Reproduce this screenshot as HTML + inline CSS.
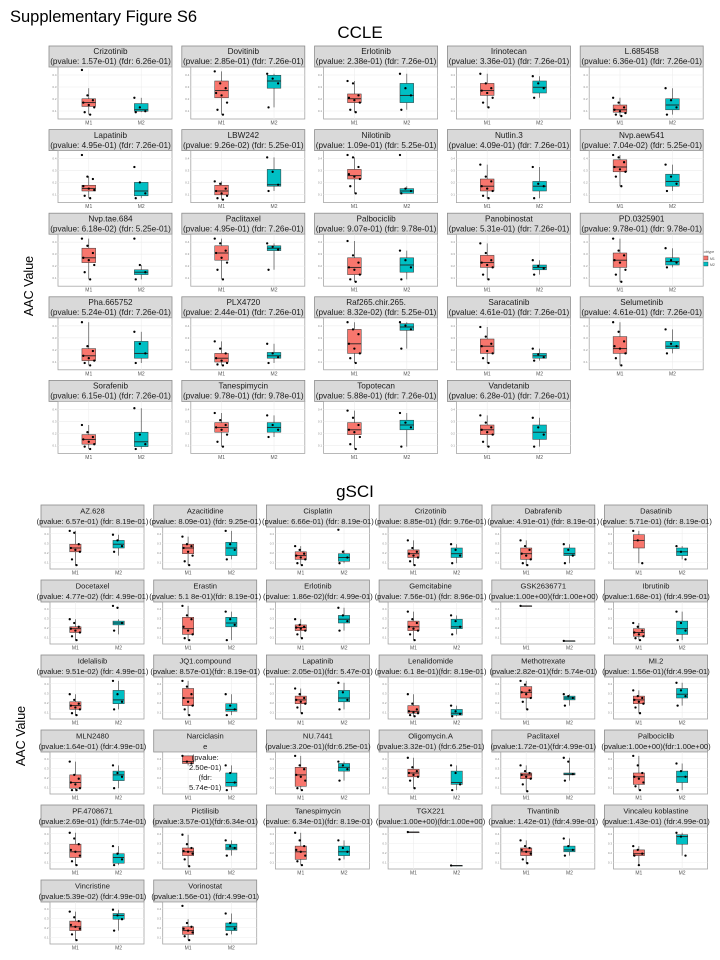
<!DOCTYPE html>
<html><head><meta charset="utf-8">
<style>
html,body{margin:0;padding:0;background:#fff;}
svg{display:block;font-family:"Liberation Sans",Arial,sans-serif;}
</style></head>
<body>
<svg id="fig" width="720" height="960" viewBox="0 0 720 960" xmlns="http://www.w3.org/2000/svg">
<rect width="720" height="960" fill="#fff"/>
<text x="10" y="22" font-size="16.5" fill="#000">Supplementary Figure S6</text>
<text x="360" y="38" font-size="17" text-anchor="middle" fill="#000">CCLE</text>
<text x="355" y="497" font-size="17" text-anchor="middle" fill="#000">gSCI</text>
<text transform="translate(33,286) rotate(-90)" font-size="12.5" text-anchor="middle">AAC Value</text>
<text transform="translate(25,736) rotate(-90)" font-size="12.5" text-anchor="middle">AAC Value</text>
<g font-size="3.5" fill="#555">
<text x="702" y="253">subtype</text>
<rect x="703" y="256" width="5" height="4" fill="#F8766D" stroke="#333" stroke-width="0.4"/>
<text x="710" y="260">M1</text>
<rect x="703" y="262" width="5" height="4" fill="#00BFC4" stroke="#333" stroke-width="0.4"/>
<text x="710" y="266">M2</text>
</g>
<g id="panels"></g>
</svg>
<script>
// ---------- CCLE data (values normalised to panel y-range 0..1) ----------
const ccleNames = ["Crizotinib","Dovitinib","Erlotinib","Irinotecan","L.685458","Lapatinib","LBW242","Nilotinib","Nutlin.3","Nvp.aew541","Nvp.tae.684","Paclitaxel","Palbociclib","Panobinostat","PD.0325901","Pha.665752","PLX4720","Raf265.chir.265.","Saracatinib","Selumetinib","Sorafenib","Tanespimycin","Topotecan","Vandetanib"];
const cclePvals = ["(pvalue: 1.57e-01) (fdr: 6.26e-01)","(pvalue: 2.85e-01) (fdr: 7.26e-01)","(pvalue: 2.38e-01) (fdr: 7.26e-01)","(pvalue: 3.36e-01) (fdr: 7.26e-01)","(pvalue: 6.36e-01) (fdr: 7.26e-01)","(pvalue: 4.95e-01) (fdr: 7.26e-01)","(pvalue: 9.26e-02) (fdr: 5.25e-01)","(pvalue: 1.09e-01) (fdr: 5.25e-01)","(pvalue: 4.09e-01) (fdr: 7.26e-01)","(pvalue: 7.04e-02) (fdr: 5.25e-01)","(pvalue: 6.18e-02) (fdr: 5.25e-01)","(pvalue: 4.95e-01) (fdr: 7.26e-01)","(pvalue: 9.07e-01) (fdr: 9.78e-01)","(pvalue: 5.31e-01) (fdr: 7.26e-01)","(pvalue: 9.78e-01) (fdr: 9.78e-01)","(pvalue: 5.24e-01) (fdr: 7.26e-01)","(pvalue: 2.44e-01) (fdr: 7.26e-01)","(pvalue: 8.32e-02) (fdr: 5.25e-01)","(pvalue: 4.61e-01) (fdr: 7.26e-01)","(pvalue: 4.61e-01) (fdr: 7.26e-01)","(pvalue: 6.15e-01) (fdr: 7.26e-01)","(pvalue: 9.78e-01) (fdr: 9.78e-01)","(pvalue: 5.88e-01) (fdr: 7.26e-01)","(pvalue: 6.28e-01) (fdr: 7.26e-01)"];
const ccleM1Box = [[0.05,0.22,0.3,0.38,0.6],[0.05,0.4,0.55,0.75,0.95],[0.1,0.3,0.38,0.48,0.75],[0.2,0.45,0.55,0.7,0.9],[0.02,0.1,0.15,0.25,0.4],[0.05,0.2,0.25,0.32,0.5],[0.02,0.12,0.2,0.32,0.4],[0.15,0.45,0.52,0.65,0.9],[0.05,0.2,0.3,0.45,0.75],[0.3,0.6,0.7,0.85,0.95],[0.1,0.45,0.55,0.75,0.95],[0.1,0.5,0.65,0.8,0.95],[0.05,0.2,0.35,0.55,0.9],[0.1,0.35,0.45,0.6,0.85],[0.05,0.35,0.5,0.65,0.95],[0.05,0.15,0.25,0.4,0.95],[0.05,0.12,0.2,0.3,0.55],[0.1,0.3,0.5,0.8,0.95],[0.1,0.3,0.45,0.6,0.85],[0.05,0.3,0.4,0.65,0.95],[0.05,0.15,0.25,0.35,0.55],[0.1,0.4,0.5,0.6,0.8],[0.05,0.35,0.45,0.6,0.85],[0.1,0.35,0.45,0.55,0.75]];
const ccleM2Box = [[0.1,0.12,0.15,0.28,0.4],[0.2,0.6,0.75,0.87,0.9],[0.15,0.3,0.45,0.7,0.9],[0.4,0.5,0.62,0.75,0.85],[0.05,0.15,0.25,0.38,0.6],[0.05,0.1,0.2,0.38,0.38],[0.2,0.3,0.33,0.65,0.9],[0.15,0.15,0.2,0.25,0.3],[0.05,0.2,0.3,0.4,0.7],[0.2,0.3,0.4,0.55,0.75],[0.1,0.2,0.25,0.3,0.4],[0.3,0.7,0.75,0.8,0.85],[0.1,0.25,0.4,0.55,0.7],[0.2,0.3,0.35,0.4,0.5],[0.35,0.4,0.47,0.55,0.75],[0.1,0.2,0.3,0.55,0.75],[0.1,0.2,0.25,0.32,0.5],[0.4,0.78,0.85,0.92,0.95],[0.15,0.2,0.25,0.3,0.4],[0.3,0.4,0.45,0.55,0.8],[0.05,0.1,0.2,0.4,0.9],[0.3,0.4,0.5,0.6,0.75],[0.1,0.45,0.55,0.65,0.8],[0.1,0.25,0.4,0.55,0.7]];
const ccleM1Pts = [[0.98,0.45,0.35,0.3,0.25,0.2,0.1,0.05],[0.95,0.7,0.6,0.5,0.45,0.3,0.15,0.05],[0.75,0.7,0.45,0.4,0.35,0.3,0.15,0.1],[0.9,0.7,0.6,0.55,0.5,0.4,0.3,0.2],[0.4,0.3,0.2,0.15,0.12,0.08,0.05,0.02],[0.95,0.5,0.45,0.3,0.25,0.22,0.1,0.05],[0.4,0.35,0.25,0.2,0.15,0.1,0.05,0.02],[0.95,0.9,0.7,0.55,0.5,0.45,0.3,0.15],[0.75,0.5,0.4,0.3,0.25,0.2,0.1,0.05],[0.95,0.9,0.8,0.7,0.65,0.6,0.5,0.3],[0.95,0.8,0.65,0.55,0.5,0.4,0.25,0.1],[0.95,0.85,0.7,0.65,0.55,0.45,0.3,0.1],[0.9,0.6,0.45,0.35,0.3,0.2,0.1,0.05],[0.85,0.65,0.5,0.45,0.4,0.35,0.2,0.1],[0.95,0.7,0.6,0.5,0.45,0.3,0.2,0.05],[0.95,0.45,0.35,0.25,0.2,0.15,0.1,0.05],[0.55,0.4,0.3,0.2,0.15,0.1,0.07,0.05],[0.95,0.8,0.7,0.5,0.4,0.3,0.2,0.1],[0.85,0.65,0.5,0.45,0.35,0.3,0.2,0.1],[0.95,0.75,0.55,0.45,0.4,0.3,0.2,0.05],[0.55,0.4,0.3,0.25,0.2,0.15,0.1,0.05],[0.8,0.65,0.55,0.5,0.45,0.35,0.2,0.1],[0.85,0.7,0.55,0.45,0.4,0.3,0.15,0.05],[0.75,0.6,0.5,0.45,0.4,0.35,0.2,0.1]];
const ccleM2Pts = [[0.4,0.2,0.12,0.1],[0.9,0.8,0.7,0.2],[0.9,0.6,0.45,0.15],[0.85,0.7,0.6,0.4],[0.6,0.35,0.2,0.05],[0.7,0.38,0.15,0.05],[0.9,0.6,0.33,0.2],[0.95,0.25,0.2,0.15],[0.7,0.35,0.3,0.05],[0.75,0.5,0.35,0.2],[0.95,0.4,0.25,0.1],[0.85,0.78,0.72,0.3],[0.7,0.5,0.35,0.1],[0.5,0.38,0.33,0.2],[0.75,0.5,0.45,0.35],[0.75,0.5,0.3,0.1],[0.5,0.3,0.22,0.1],[0.95,0.88,0.8,0.4],[0.4,0.28,0.22,0.15],[0.8,0.5,0.45,0.3],[0.9,0.35,0.15,0.05],[0.75,0.55,0.45,0.3],[0.8,0.6,0.5,0.1],[0.7,0.5,0.35,0.1]];

// ---------- gSCI data ----------
const gsciNames = ["AZ.628","Azacitidine","Cisplatin","Crizotinib","Dabrafenib","Dasatinib","Docetaxel","Erastin","Erlotinib","Gemcitabine","GSK2636771","Ibrutinib","Idelalisib","JQ1.compound","Lapatinib","Lenalidomide","Methotrexate","MI.2","MLN2480","Narciclasin|e","NU.7441","Oligomycin.A","Paclitaxel","Palbociclib","PF.4708671","Pictilisib","Tanespimycin","TGX221","Tivantinib","Vincaleu koblastine","Vincristine","Vorinostat"];
const gsciPvals = ["(pvalue: 6.57e-01) (fdr: 8.19e-01)","(pvalue: 8.09e-01) (fdr: 9.25e-01)","(pvalue: 6.66e-01) (fdr: 8.19e-01)","(pvalue: 8.85e-01) (fdr: 9.76e-01)","(pvalue: 4.91e-01) (fdr: 8.19e-01)","(pvalue: 5.71e-01) (fdr: 8.19e-01)","(pvalue: 4.77e-02) (fdr: 4.99e-01)","(pvalue: 5.1 8e-01)(fdr: 8.19e-01)","(pvalue: 1.86e-02)(fdr: 4.99e-01)","(pvalue: 7.56e-01) (fdr: 8.96e-01)","(pvalue:1.00e+00)(fdr:1.00e+00)","(pvalue:1.68e-01) (fdr:4.99e-01)","(pvalue: 9.51e-02) (fdr: 4.99e-01)","(pvalue: 8.57e-01)(fdr: 8.19e-01)","(pvalue: 2.05e-01)(fdr: 5.47e-01)","(pvalue: 6.1 8e-01)(fdr: 8.19e-01)","(pvalue:2.82e-01)(fdr: 5.74e-01)","(pvalue: 1.56e-01)(fdr:4.99e-01)","(pvalue:1.64e-01) (fdr:4.99e-01)","","(pvalue:3.20e-01)(fdr:6.25e-01)","(pvalue:3.32e-01) (fdr:6.25e-01)","(pvalue:1.72e-01)(fdr:4.99e-01)","(pvalue:1.00e+00)(fdr:1.00e+00)","(pvalue:2.69e-01) (fdr:5.74e-01)","(pvalue:3.57e-01)(fdr:6.34e-01)","(pvalue: 6.34e-01)(fdr: 8.19e-01)","(pvalue:1.00e+00)(fdr:1.00e+00)","(pvalue: 1.42e-01) (fdr:4.99e-01)","(pvalue:1.43e-01) (fdr:4.99e-01)","(pvalue:5.39e-02) (fdr:4.99e-01)","(pvalue:1.56e-01) (fdr:4.99e-01)"];
const gsciM1Box = [[0.05,0.4,0.5,0.6,0.95],[0.05,0.35,0.5,0.6,0.8],[0.05,0.2,0.3,0.4,0.55],[0.05,0.25,0.35,0.45,0.7],[0.05,0.2,0.35,0.5,0.7],[0.1,0.5,0.7,0.85,0.95],[0.05,0.25,0.35,0.4,0.6],[0.05,0.2,0.35,0.65,0.95],[0.1,0.3,0.38,0.45,0.6],[0.05,0.3,0.4,0.55,0.8],[0.95,0.95,0.95,0.95,0.95],[0.05,0.15,0.25,0.35,0.5],[0.05,0.2,0.3,0.4,0.6],[0.05,0.3,0.5,0.75,0.95],[0.1,0.35,0.45,0.55,0.75],[0.02,0.1,0.15,0.3,0.6],[0.2,0.5,0.65,0.8,0.95],[0.1,0.35,0.45,0.55,0.7],[0.05,0.1,0.25,0.45,0.8],[0.7,0.75,0.8,0.95,0.95],[0.05,0.15,0.45,0.65,0.95],[0.1,0.4,0.5,0.6,0.9],[0.02,0.35,0.45,0.5,0.7],[0.05,0.2,0.4,0.5,0.95],[0.05,0.25,0.4,0.6,0.9],[0.02,0.3,0.4,0.5,0.85],[0.05,0.2,0.4,0.55,0.9],[0.92,0.92,0.92,0.92,0.92],[0.1,0.3,0.4,0.5,0.7],[0.05,0.3,0.35,0.45,0.55],[0.05,0.3,0.4,0.55,0.8],[0.05,0.2,0.3,0.4,0.6]];
const gsciM2Box = [[0.3,0.5,0.6,0.7,0.85],[0.2,0.3,0.5,0.65,0.95],[0.1,0.15,0.25,0.35,0.45],[0.1,0.25,0.35,0.5,0.6],[0.1,0.3,0.35,0.5,0.6],[0.2,0.3,0.4,0.5,0.55],[0.2,0.45,0.5,0.55,0.6],[0.05,0.4,0.5,0.65,0.8],[0.3,0.5,0.6,0.7,0.9],[0.2,0.35,0.4,0.6,0.7],[0.03,0.03,0.03,0.03,0.03],[0.05,0.2,0.35,0.55,0.8],[0.2,0.35,0.45,0.7,0.95],[0.05,0.15,0.2,0.35,0.6],[0.2,0.4,0.5,0.7,0.9],[0.02,0.05,0.1,0.2,0.3],[0.3,0.45,0.5,0.55,0.6],[0.3,0.5,0.6,0.75,0.9],[0.1,0.3,0.45,0.55,0.7],[0.05,0.15,0.25,0.5,0.7],[0.3,0.55,0.65,0.75,0.8],[0.05,0.2,0.25,0.55,0.7],[0.3,0.45,0.47,0.5,0.9],[0.05,0.25,0.4,0.55,0.75],[0.05,0.1,0.25,0.35,0.55],[0.3,0.45,0.5,0.6,0.7],[0.2,0.3,0.4,0.55,0.7],[0.04,0.04,0.04,0.04,0.04],[0.3,0.4,0.45,0.55,0.75],[0.3,0.6,0.8,0.85,0.9],[0.3,0.6,0.7,0.75,0.85],[0.2,0.3,0.4,0.5,0.75]];
const gsciM1Pts = [[0.95,0.9,0.6,0.5,0.45,0.4,0.2,0.05],[0.8,0.6,0.55,0.5,0.4,0.3,0.15,0.05],[0.55,0.45,0.35,0.3,0.25,0.2,0.1,0.05],[0.7,0.5,0.4,0.35,0.3,0.25,0.15,0.05],[0.7,0.55,0.45,0.35,0.3,0.2,0.1,0.05],[0.95,0.7,0.1],[0.6,0.5,0.4,0.35,0.3,0.25,0.15,0.05],[0.95,0.7,0.6,0.4,0.3,0.2,0.1,0.05],[0.6,0.45,0.4,0.38,0.35,0.3,0.2,0.1],[0.8,0.6,0.5,0.4,0.35,0.3,0.2,0.05],[0.95],[0.5,0.4,0.3,0.25,0.2,0.15,0.1,0.05],[0.6,0.45,0.35,0.3,0.25,0.2,0.1,0.05],[0.95,0.8,0.6,0.5,0.4,0.3,0.2,0.05],[0.75,0.6,0.5,0.45,0.4,0.35,0.25,0.1],[0.6,0.35,0.2,0.15,0.12,0.1,0.05,0.02],[0.95,0.85,0.7,0.65,0.6,0.5,0.4,0.2],[0.7,0.55,0.5,0.45,0.4,0.35,0.25,0.1],[0.8,0.45,0.35,0.25,0.2,0.1,0.05,0.05],[0.95,0.8,0.75],[0.95,0.7,0.6,0.45,0.4,0.3,0.1,0.05],[0.9,0.65,0.55,0.5,0.45,0.4,0.3,0.1],[0.7,0.55,0.5,0.45,0.4,0.35,0.2,0.02],[0.95,0.7,0.5,0.4,0.35,0.25,0.15,0.05],[0.9,0.75,0.6,0.45,0.4,0.3,0.15,0.05],[0.85,0.6,0.5,0.42,0.4,0.35,0.2,0.02],[0.9,0.7,0.55,0.45,0.4,0.3,0.15,0.05],[0.92],[0.7,0.55,0.5,0.45,0.4,0.35,0.2,0.1],[0.55,0.45,0.35,0.3,0.05],[0.8,0.65,0.55,0.45,0.4,0.35,0.2,0.05],[0.95,0.5,0.4,0.35,0.3,0.25,0.15,0.05]];
const gsciM2Pts = [[0.85,0.7,0.55,0.4],[0.95,0.6,0.45,0.2],[0.98,0.4,0.25,0.1],[0.6,0.45,0.3,0.1],[0.6,0.45,0.3,0.1],[0.55,0.4,0.2],[0.95,0.9,0.5,0.3],[0.8,0.6,0.45,0.05],[0.9,0.7,0.55,0.3],[0.7,0.55,0.4,0.2],[0.03],[0.8,0.5,0.3,0.05],[0.95,0.6,0.4,0.2],[0.6,0.3,0.2,0.05],[0.9,0.65,0.45,0.2],[0.3,0.15,0.08,0.02],[0.6,0.55,0.5,0.3],[0.9,0.7,0.55,0.3],[0.7,0.5,0.4,0.1],[0.7,0.5,0.25,0.05],[0.8,0.7,0.6,0.3],[0.7,0.5,0.2,0.05],[0.9,0.8,0.47,0.3],[0.75,0.55,0.4,0.05],[0.55,0.35,0.2,0.05],[0.7,0.55,0.5,0.3],[0.7,0.5,0.4,0.2],[0.04],[0.75,0.55,0.45,0.3],[0.9,0.8,0.3],[0.85,0.7,0.6,0.3],[0.75,0.5,0.35,0.2]];
const tickLabels = ["0.1","0.2","0.3","0.4"];

const NS = "http://www.w3.org/2000/svg";
const root = document.getElementById("panels");
function mk(tag, attrs, parent){ const e=document.createElementNS(NS,tag); for(const k in attrs) e.setAttribute(k,attrs[k]); (parent||root).appendChild(e); return e; }

function drawPanel(g, x0, y0, w, stripH, plotH, title, pval, b1, b2, p1, p2, fs){
  const lines = title.split("|");
  const strip = mk("rect",{x:x0,y:y0,width:w,height:stripH,fill:"#d9d9d9",stroke:"#8c8c8c","stroke-width":0.8},g);
  
  
  const allLines = pval ? lines.concat([pval]) : lines;
  const lh = stripH/2.1;
  allLines.forEach((t,i)=>{
    const tx = mk("text",{x:x0+w/2,y:y0+lh*(i+0.82),"font-size":fs,"text-anchor":"middle",fill:"#1a1a1a"},g);
    tx.textContent=t;
    
    
  });
  const px = x0+9, pw = w-9, py = y0+stripH, ph = plotH;
  const bg = mk("rect",{x:px,y:py,width:pw,height:ph,fill:"#fff",stroke:"#a6a6a6","stroke-width":0.8},g);
  
  
  const yS = v => py+ph-2-v*(ph-4);
  tickLabels.forEach((t,i)=>{
    const v=(i+0.5)/tickLabels.length;
    const gl = mk("line",{x1:px,x2:px+pw,y1:yS(v),y2:yS(v),stroke:"#ececec","stroke-width":0.6},g);
    
    
    const tl = mk("text",{x:px-1.5,y:yS(v)+1,"font-size":3,"text-anchor":"end",fill:"#888"},g);
    tl.textContent=t;
    
    
  });
  const cx=[px+0.27*pw, px+0.73*pw];
  cx.forEach(c=>{ const vl=mk("line",{x1:c,x2:c,y1:py,y2:py+ph,stroke:"#ececec","stroke-width":0.6},g);
    
     });
  const bw = pw*0.12;
  [[b1,p1,"#F8766D","m1"],[b2,p2,"#00BFC4","m2"]].forEach(([b,p,col,nm],k)=>{
    const c=cx[k];
    const wh = mk("line",{x1:c,x2:c,y1:yS(b[4]),y2:yS(b[0]),stroke:"#333","stroke-width":0.6},g);
    
    
    const bx = mk("rect",{x:c-bw/2,y:yS(b[3]),width:bw,height:Math.max(0.6,yS(b[1])-yS(b[3])),fill:col,stroke:"#333","stroke-width":0.5},g);
    
    
    const md = mk("line",{x1:c-bw/2,x2:c+bw/2,y1:yS(b[2]),y2:yS(b[2]),stroke:"#222","stroke-width":0.9},g);
    
    
    p.forEach((v,i)=>{
      const off = ((i*37)%11-5)/5*bw*0.5;
      const pt = mk("circle",{cx:c+off,cy:yS(v),r:1.15,fill:"#000"},g);
      
      
    });
    const lab = mk("text",{x:c,y:py+ph+5.5,"font-size":5,"text-anchor":"middle",fill:"#555"},g);
    lab.textContent = k===0?"M1":"M2";
    
    
  });
  return {px,py,pw,ph};
}

ccleNames.forEach((n,i)=>{
  const col=i%5,row=Math.floor(i/5);
  const g=mk("g",{});
  
  
  drawPanel(g,49+col*132.8,46+row*83.6,123,21,52,n,cclePvals[i],ccleM1Box[i],ccleM2Box[i],ccleM1Pts[i],ccleM2Pts[i],8.2);
});
gsciNames.forEach((n,i)=>{
  const col=i%6,row=Math.floor(i/6);
  const g=mk("g",{});
  
  
  const r=drawPanel(g,41+col*112.7,505+row*75,103,22,42,n,gsciPvals[i],gsciM1Box[i],gsciM2Box[i],gsciM1Pts[i],gsciM2Pts[i],7.6);
  if(gsciPvals[i]===""){
    ["(pvalue:","2.50e-01)","(fdr:","5.74e-01)"].forEach((t,j)=>{
      const tx=mk("text",{x:41+col*112.7+51.5,y:r.py+8+j*10,"font-size":7.6,"text-anchor":"middle",fill:"#1a1a1a"},g);
      tx.textContent=t;
      
      
    });
  }
});
</script>
</body></html>
